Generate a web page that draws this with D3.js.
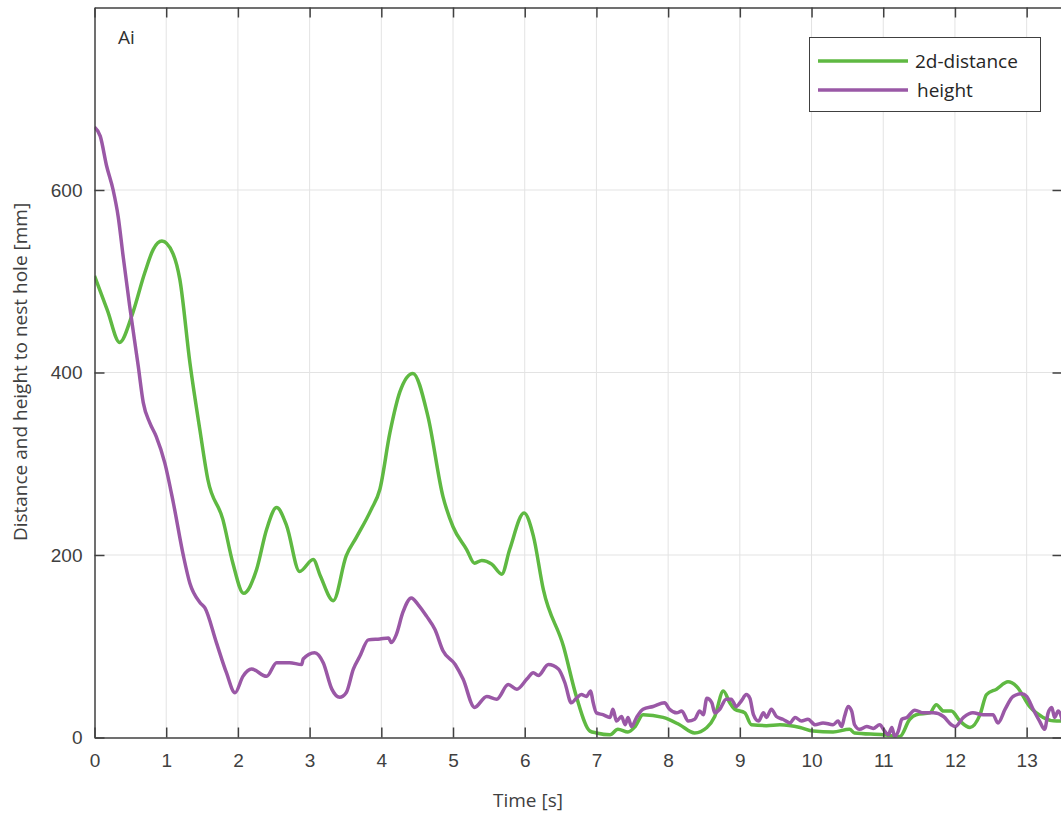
<!DOCTYPE html>
<html>
<head>
<meta charset="utf-8">
<script src="https://cdn.jsdelivr.net/npm/d3@7"></script>
<style>
  body { margin: 0; background: #fff; }
  svg { display: block; font-family: "Open Sans", sans-serif; }
  .grid line { stroke: #e3e3e3; stroke-width: 1; }
  .tick-label { fill: #404040; font-size: 19px; }
</style>
</head>
<body>
<script>
// data: time [s] and value [mm]
var distTime = [0, 0.18, 0.35, 0.52, 0.70, 0.82, 0.94, 1.09, 1.19, 1.33, 1.47, 1.58, 1.79, 1.93, 2.08, 2.26, 2.40, 2.54, 2.68, 2.86, 3.05, 3.15, 3.33, 3.51, 3.65, 3.86, 3.98, 4.12, 4.26, 4.44, 4.65, 4.86, 5.00, 5.19, 5.30, 5.40, 5.54, 5.68, 5.79, 5.99, 6.12, 6.26, 6.54, 6.72, 6.91, 7.0, 7.19, 7.3, 7.44, 7.54, 7.65, 7.93, 8.16, 8.37, 8.54, 8.65, 8.77, 8.86, 8.93, 9.07, 9.16, 9.37, 9.56, 9.84, 10.02, 10.3, 10.53, 10.6, 11.0, 11.23, 11.37, 11.46, 11.65, 11.74, 11.84, 11.95, 12.07, 12.21, 12.35, 12.44, 12.58, 12.74, 12.86, 13.04, 13.23, 13.42, 13.5];
var distValue = [506, 468, 433, 462, 509, 535, 544, 531, 502, 411, 337, 283, 239, 191, 158, 184, 228, 252, 232, 182, 195, 177, 150, 199, 219, 250, 272, 334, 379, 399, 352, 264, 231, 206, 191, 194, 190, 179, 206, 246, 221, 162, 100, 45, 7, 5, 3, 9, 6, 12, 25, 22, 14, 5, 11, 23, 51, 38, 31, 27, 14, 13, 14, 11, 7, 6, 9, 5, 3, 1, 20, 25, 27, 36, 29, 29, 18, 11, 25, 47, 53, 61, 56, 34, 22, 18, 18];

var heightTime = [0, 0.08, 0.17, 0.26, 0.33, 0.40, 0.49, 0.61, 0.68, 0.77, 0.86, 0.98, 1.10, 1.24, 1.33, 1.47, 1.54, 1.70, 1.84, 1.96, 2.07, 2.19, 2.40, 2.54, 2.72, 2.89, 2.91, 3.07, 3.19, 3.31, 3.42, 3.51, 3.61, 3.70, 3.82, 3.98, 4.10, 4.14, 4.21, 4.30, 4.42, 4.51, 4.63, 4.75, 4.86, 5.03, 5.14, 5.30, 5.47, 5.61, 5.77, 5.89, 6.03, 6.12, 6.19, 6.33, 6.47, 6.56, 6.65, 6.72, 6.79, 6.86, 6.92, 6.95, 7.0, 7.09, 7.19, 7.23, 7.28, 7.35, 7.40, 7.44, 7.49, 7.56, 7.65, 7.79, 7.95, 8.02, 8.12, 8.19, 8.28, 8.37, 8.44, 8.49, 8.54, 8.61, 8.65, 8.72, 8.81, 8.88, 8.95, 9.02, 9.09, 9.14, 9.19, 9.26, 9.33, 9.37, 9.44, 9.51, 9.60, 9.70, 9.77, 9.86, 9.95, 10.05, 10.16, 10.30, 10.37, 10.42, 10.46, 10.51, 10.56, 10.60, 10.67, 10.77, 10.86, 10.95, 11.02, 11.07, 11.12, 11.16, 11.21, 11.26, 11.33, 11.44, 11.56, 11.70, 11.84, 11.95, 12.0, 12.12, 12.25, 12.39, 12.53, 12.60, 12.70, 12.81, 12.93, 13.0, 13.09, 13.18, 13.25, 13.30, 13.35, 13.39, 13.44, 13.5];
var heightValue = [669, 659, 626, 600, 571, 527, 473, 407, 367, 345, 330, 301, 257, 199, 169, 148, 142, 104, 71, 49, 67, 75, 67, 82, 82, 80, 86, 93, 82, 53, 44, 49, 75, 89, 107, 108, 109, 104, 113, 137, 153, 146, 133, 118, 95, 80, 64, 33, 45, 42, 58, 53, 64, 71, 68, 80, 75, 60, 38, 43, 47, 45, 51, 40, 27, 25, 22, 31, 18, 23, 14, 22, 12, 22, 31, 34, 38, 31, 27, 29, 18, 20, 29, 25, 43, 38, 27, 31, 42, 42, 34, 40, 47, 43, 25, 18, 27, 22, 31, 23, 20, 16, 22, 18, 20, 14, 16, 14, 18, 12, 23, 34, 29, 14, 9, 12, 10, 14, 7, 3, 11, 1, 7, 20, 22, 30, 27, 27, 23, 14, 12, 22, 27, 25, 25, 16, 31, 45, 48, 45, 31, 18, 9, 27, 33, 22, 29, 18];

var xTicks = [0, 1, 2, 3, 4, 5, 6, 7, 8, 9, 10, 11, 12, 13];
var yTicks = [0, 200, 400, 600];
var seriesNames = ["2d-distance", "height"];
var seriesColors = ["#5fb942", "#9a58a6"];

// layout
var margin = {top: 7.5, left: 94.5};
var width = 968;
var height = 730;

var svg = d3.select("body").append("svg")
	.attr("width", 1061)
	.attr("height", 816);

var g = svg.append("g")
	.attr("transform", "translate(" + margin.left + "," + margin.top + ")");

var xScale = d3.scaleLinear().domain([0, 13.5]).range([0, width]);
var yScale = d3.scaleLinear().domain([0, 800]).range([height, 0]);

// grid
g.append("g").attr("class", "grid")
	.selectAll("line.v").data(xTicks.slice(1)).enter().append("line")
	.attr("x1", function(d) { return xScale(d); })
	.attr("x2", function(d) { return xScale(d); })
	.attr("y1", 0).attr("y2", height);
g.append("g").attr("class", "grid")
	.selectAll("line.h").data(yTicks.slice(1)).enter().append("line")
	.attr("x1", 0).attr("x2", width)
	.attr("y1", function(d) { return yScale(d); })
	.attr("y2", function(d) { return yScale(d); });

// clip the lines to the plot box
svg.append("defs").append("clipPath").attr("id", "plot-clip")
	.append("rect").attr("x", 0).attr("y", 0).attr("width", width).attr("height", height);

function makeLine(times, values) {
	return d3.line()
		.x(function(d, i) { return xScale(times[i]); })
		.y(function(d, i) { return yScale(values[i]); })
		.curve(d3.curveMonotoneX)(values);
}

var lines = g.append("g").attr("clip-path", "url(#plot-clip)");
lines.append("path")
	.attr("d", makeLine(distTime, distValue))
	.attr("fill", "none")
	.attr("stroke", seriesColors[0])
	.attr("stroke-width", 3.5)
	.attr("stroke-linejoin", "round");
lines.append("path")
	.attr("d", makeLine(heightTime, heightValue))
	.attr("fill", "none")
	.attr("stroke", seriesColors[1])
	.attr("stroke-width", 3.5)
	.attr("stroke-linejoin", "round");

// axes: box with inward ticks on all four sides
var tickLen = 10;
var bottomAxis = d3.axisBottom(xScale).tickValues(xTicks).tickSizeInner(-tickLen).tickSizeOuter(0).tickPadding(tickLen + 6);
var topAxis = d3.axisTop(xScale).tickValues(xTicks).tickSizeInner(-tickLen).tickSizeOuter(0).tickFormat("");
var leftAxis = d3.axisLeft(yScale).tickValues(yTicks).tickSizeInner(-tickLen).tickSizeOuter(0).tickPadding(tickLen + 2);
var rightAxis = d3.axisRight(yScale).tickValues(yTicks).tickSizeInner(-tickLen).tickSizeOuter(0).tickFormat("");

function styleAxis(sel) {
	sel.select(".domain").attr("stroke", "#404040").attr("stroke-width", 1.5);
	sel.selectAll(".tick line").attr("stroke", "#404040").attr("stroke-width", 1.5);
	sel.selectAll(".tick text").attr("class", "tick-label").attr("font-size", null).attr("font-family", null);
}

g.append("g").attr("transform", "translate(0," + height + ")").call(bottomAxis).call(styleAxis);
g.append("g").call(topAxis).call(styleAxis);
g.append("g").call(leftAxis).call(styleAxis);
g.append("g").attr("transform", "translate(" + width + ",0)").call(rightAxis).call(styleAxis);

// axis titles
svg.append("text")
	.attr("x", 528).attr("y", 807)
	.attr("text-anchor", "middle")
	.attr("fill", "#404040").attr("font-size", 19)
	.text("Time [s]");
svg.append("text")
	.attr("transform", "translate(27,372) rotate(-90)")
	.attr("text-anchor", "middle")
	.attr("fill", "#404040").attr("font-size", 19)
	.text("Distance and height to nest hole [mm]");

// panel label
svg.append("text")
	.attr("x", 118).attr("y", 44)
	.attr("fill", "#303030").attr("font-size", 19)
	.text("Ai");

// legend
var legend = svg.append("g");
legend.append("rect")
	.attr("x", 809.5).attr("y", 37.5).attr("width", 231).attr("height", 74)
	.attr("fill", "#fff").attr("stroke", "#404040").attr("stroke-width", 1);
var legendRows = [{y: 61, tx: 915, ty: 68}, {y: 90, tx: 917, ty: 97}];
legendRows.forEach(function(r, i) {
	legend.append("line")
		.attr("x1", 818).attr("x2", 908)
		.attr("y1", r.y).attr("y2", r.y)
		.attr("stroke", seriesColors[i]).attr("stroke-width", 3.5);
	legend.append("text")
		.attr("x", r.tx).attr("y", r.ty)
		.attr("fill", "#262626").attr("font-size", 19)
		.text(seriesNames[i]);
});
</script>
</body>
</html>
